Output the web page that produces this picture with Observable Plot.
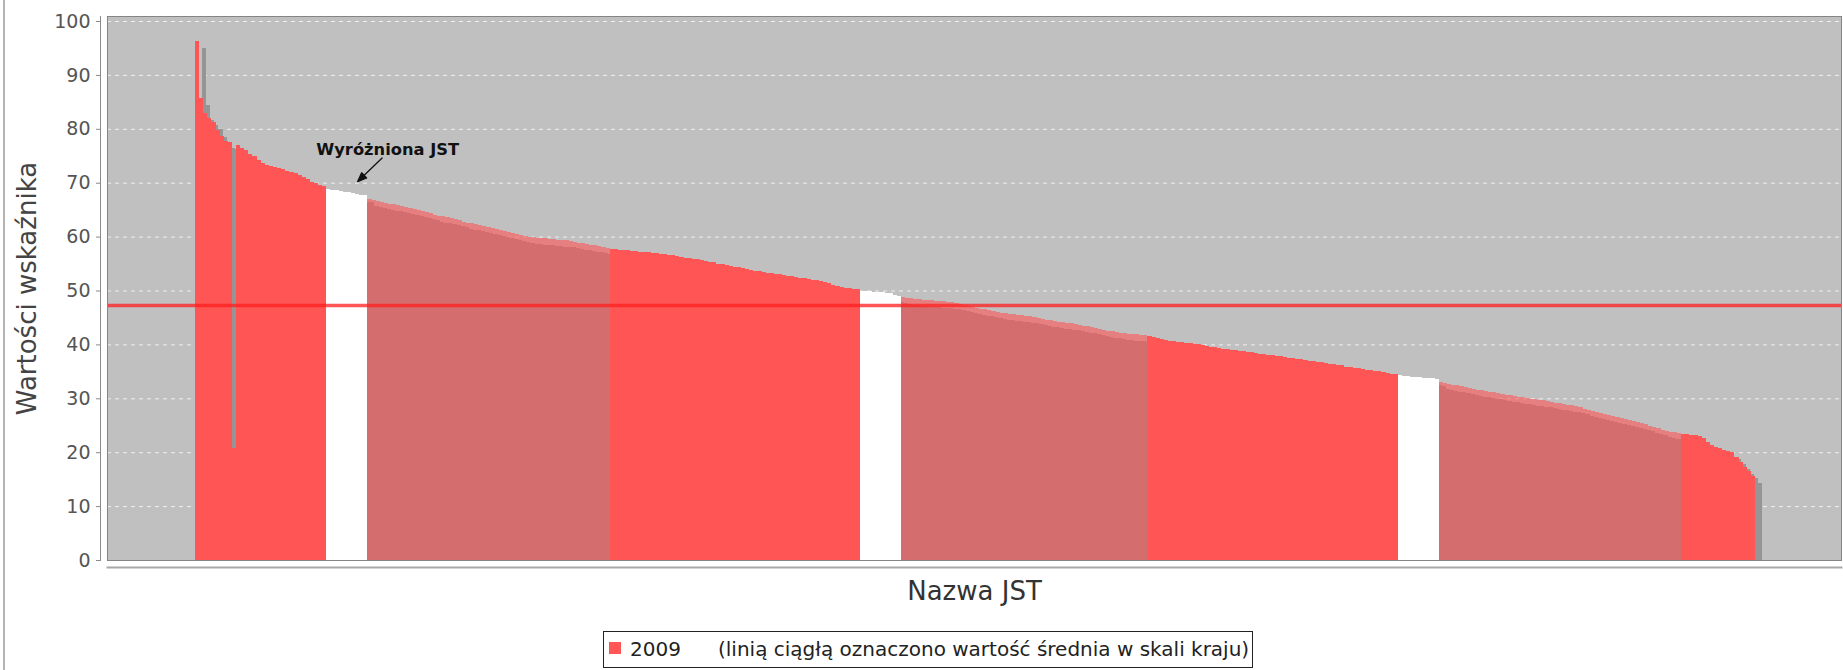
<!DOCTYPE html>
<html>
<head>
<meta charset="utf-8">
<script src="https://cdn.jsdelivr.net/npm/d3@7"></script>
<script src="https://cdn.jsdelivr.net/npm/@observablehq/plot@0.6"></script>
<style>
  html, body { margin: 0; padding: 0; background: #fff; }
  body { width: 1843px; height: 670px; position: relative; overflow: hidden; font-family: "DejaVu Sans", sans-serif; }
  #edge { position: absolute; left: 3px; top: 0; width: 2px; height: 670px; background: #b4b4b4; }
  #chart svg { display: block; }
  .legend { position: absolute; left: 603px; top: 631px; width: 648px; height: 35px; border: 1px solid #222; font-size: 20px; color: #222; background: #fff; }
  .legend .sw { position: absolute; left: 5px; top: 10px; width: 12px; height: 12px; background: #ff5555; }
  .legend .t1 { position: absolute; left: 26px; top: 0; line-height: 35px; white-space: nowrap; }
  .legend .t2 { position: absolute; left: 114px; top: 0; line-height: 35px; white-space: nowrap; }
</style>
</head>
<body>
<div id="edge"></div>
<div id="chart"></div>
<script>
// ---- data (sorted bars, one per JST) ----
const seg1Normal = [96.2, 85.8, 82.9, 82.0, 81.3, 79.8, 78.6, 77.8, 77.5, 20.8, 77.0, 76.4, 76.0, 75.4, 75.0, 74.2, 73.6, 73.3, 73.1, 73.0, 72.8, 72.6, 72.2, 72.0, 71.8, 71.4, 71.1, 70.6, 70.2, 69.9, 69.6, 69.3];
const seg2Highlight = [68.8, 68.7, 68.6, 68.4, 68.3, 68.2, 68.0, 67.9, 67.8, 67.7];
const seg3Neighbour = [67.0, 66.8, 66.6, 66.4, 66.3, 66.1, 66.0, 65.8, 65.6, 65.5,
  65.3, 65.1, 64.9, 64.7, 64.5, 64.3, 64.1, 63.9, 63.8, 63.6,
  63.4, 63.2, 63.0, 62.8, 62.6, 62.5, 62.3, 62.2, 62.0, 61.8,
  61.6, 61.4, 61.2, 61.0, 60.8, 60.6, 60.5, 60.3, 60.2, 60.0,
  59.9, 59.8, 59.7, 59.7, 59.6, 59.5, 59.4, 59.4, 59.3, 59.1,
  59.0, 58.9, 58.8, 58.6, 58.5, 58.4, 58.2, 58.1, 57.9];
const seg4Normal = [57.7, 57.7, 57.6, 57.5, 57.5, 57.4, 57.3, 57.2, 57.1, 57.1,
  57.0, 56.9, 56.8, 56.7, 56.6, 56.5, 56.4, 56.2, 56.1, 56.0,
  55.9, 55.8, 55.6, 55.5, 55.3, 55.2, 55.0, 54.9, 54.7, 54.6,
  54.4, 54.3, 54.1, 54.0, 53.8, 53.7, 53.6, 53.5, 53.3, 53.2,
  53.1, 53.0, 52.9, 52.7, 52.6, 52.5, 52.4, 52.3, 52.1, 52.0,
  51.9, 51.8, 51.6, 51.3, 51.1, 50.9, 50.7, 50.5, 50.4, 50.3, 50.2];
const seg5Highlight = [50.0, 49.9, 49.9, 49.8, 49.7, 49.7, 49.6, 49.5, 49.2, 48.9];
const seg6Neighbour = [48.8, 48.7, 48.6, 48.5, 48.4, 48.3, 48.2, 48.2, 48.1, 48.0,
  48.0, 47.9, 47.8, 47.6, 47.5, 47.3, 47.1, 47.0, 46.8, 46.6,
  46.5, 46.3, 46.2, 46.0, 45.9, 45.8, 45.7, 45.6, 45.5, 45.4,
  45.3, 45.2, 45.0, 44.9, 44.7, 44.6, 44.5, 44.4, 44.2, 44.1,
  44.0, 43.9, 43.8, 43.6, 43.5, 43.4, 43.2, 43.0, 42.8, 42.6,
  42.5, 42.4, 42.3, 42.2, 42.1, 42.0, 41.9, 41.9, 41.8, 41.7];
const seg7Normal = [41.5, 41.3, 41.2, 41.0, 40.9, 40.7, 40.6, 40.5, 40.4, 40.3,
  40.2, 40.1, 40.0, 39.8, 39.7, 39.6, 39.5, 39.4, 39.2, 39.1,
  39.0, 38.9, 38.8, 38.7, 38.6, 38.5, 38.4, 38.3, 38.2, 38.1,
  38.0, 37.9, 37.8, 37.6, 37.5, 37.4, 37.3, 37.2, 37.1, 37.0,
  36.9, 36.8, 36.7, 36.5, 36.4, 36.3, 36.2, 36.1, 35.9, 35.8,
  35.7, 35.6, 35.5, 35.3, 35.2, 35.1, 35.0, 34.9, 34.7, 34.6, 34.5];
const seg8Highlight = [34.3, 34.2, 34.1, 34.0, 33.9, 33.9, 33.8, 33.7, 33.7, 33.6];
const seg9Neighbour = [33.0, 32.8, 32.7, 32.5, 32.4, 32.2, 32.1, 31.9, 31.8, 31.6,
  31.5, 31.4, 31.2, 31.1, 30.9, 30.8, 30.7, 30.6, 30.4, 30.3,
  30.2, 30.1, 29.9, 29.8, 29.7, 29.6, 29.5, 29.4, 29.2, 29.1,
  29.0, 28.8, 28.7, 28.5, 28.3, 28.1, 27.9, 27.7, 27.5, 27.2,
  27.0, 26.9, 26.7, 26.5, 26.4, 26.2, 26.0, 25.8, 25.6, 25.4,
  25.2, 24.9, 24.7, 24.5, 24.2, 24.0, 23.8, 23.7, 23.5];
const seg10Normal = [23.4, 23.3, 23.2, 23.1, 23.0, 22.6, 21.9, 21.3, 21.0, 20.7, 20.4, 20.2, 20.0, 19.2, 18.2, 17.3, 16.6, 15.6];

const segments = [
  {kind: "normal", values: seg1Normal},
  {kind: "highlight", values: seg2Highlight},
  {kind: "neighbour", values: seg3Neighbour},
  {kind: "normal", values: seg4Normal},
  {kind: "highlight", values: seg5Highlight},
  {kind: "neighbour", values: seg6Neighbour},
  {kind: "normal", values: seg7Normal},
  {kind: "highlight", values: seg8Highlight},
  {kind: "neighbour", values: seg9Neighbour},
  {kind: "normal", values: seg10Normal}
];

const nationalMean = [47.3];
const yTicks = [0, 10, 20, 30, 40, 50, 60, 70, 80, 90, 100];
const gridTicks = [10, 20, 30, 40, 50, 60, 70, 80, 90, 100];
const yLabel = "Wartości wskaźnika";
const xLabel = "Nazwa JST";
const seriesName = "2009";
const legendNote = "(linią ciągłą oznaczono wartość średnia w skali kraju)";
const annotationText = "Wyróżniona JST";

// ---- build rows ----
const rows = [];
segments.forEach(s => s.values.forEach(v => rows.push({jst: "JST " + (rows.length + 1), value: v, kind: s.kind})));
const categories = rows.map(d => d.jst);
const annotations = [{jst: categories[39], value: 70.3, label: annotationText}];

const arrowShape = {
  draw(context, l) {
    context.moveTo(0, 0);
    context.lineTo(-3.6, -9);
    context.lineTo(3.6, -9);
    context.closePath();
    context.moveTo(0, -8);
    context.lineTo(0, -l);
  }
};

const red = "#ff5555";
const chart = Plot.plot({
  width: 1843,
  height: 625,
  marginLeft: 107,
  marginRight: 2,
  marginTop: 16,
  marginBottom: 65,
  style: {fontFamily: "DejaVu Sans", background: "transparent", overflow: "visible"},
  x: {type: "band", domain: categories, padding: 0, insetLeft: 88, insetRight: 86, axis: null, round: false},
  y: {domain: [0, 100.93], axis: null},
  marks: [
    Plot.frame({fill: "#c0c0c0", stroke: null}),
    Plot.gridY(gridTicks, {stroke: "#ffffff", strokeOpacity: 0.75, strokeDasharray: "4,4"}),
    Plot.barY(rows, {x: "jst", y: "value", fill: "#959595", dx: 7, dy: 7, clip: true, shapeRendering: "crispEdges"}),
    Plot.barY(rows.filter(d => d.kind === "normal"), {x: "jst", y: "value", fill: red, shapeRendering: "crispEdges"}),
    Plot.barY(rows.filter(d => d.kind === "highlight"), {x: "jst", y: "value", fill: "#ffffff", shapeRendering: "crispEdges"}),
    Plot.barY(rows.filter(d => d.kind === "neighbour"), {x: "jst", y: "value", fill: red, fillOpacity: 0.6, shapeRendering: "crispEdges"}),
    Plot.ruleY(nationalMean, {stroke: "#ff1f1f", strokeWidth: 3.5, strokeOpacity: 0.75}),
    Plot.frame({stroke: "#858585"}),
    Plot.frame({anchor: "left", stroke: "#8a8a8a", dx: -7}),
    Plot.frame({anchor: "bottom", stroke: "#a8a8a8", strokeWidth: 2, dy: 7}),
    Plot.axisY(yTicks, {anchor: "left", tickSize: 4, tickPadding: 6, dx: -7, fontSize: 19, fill: "#555", stroke: "#8a8a8a", label: null}),
    Plot.text([yLabel], {frameAnchor: "left", dx: -80, rotate: -90, textAnchor: "middle", lineAnchor: "middle", fontSize: 26, fill: "#444"}),
    Plot.text([xLabel], {frameAnchor: "bottom", dy: 31, textAnchor: "middle", lineAnchor: "middle", fontSize: 26, fill: "#333"}),
    Plot.vector(annotations, {x: "jst", y: "value", rotate: 46, length: 34, anchor: "start", shape: arrowShape, stroke: "#111", fill: "#111", strokeWidth: 1.3}),
    Plot.text(annotations, {x: "jst", y: "value", text: "label", dx: 30, dy: -32, fontSize: 16.3, fontWeight: "bold", fill: "#111"})
  ]
});
document.getElementById("chart").appendChild(chart);

const legend = document.createElement("div");
legend.className = "legend";
legend.innerHTML = '<span class="sw"></span><span class="t1"></span><span class="t2"></span>';
legend.querySelector(".t1").textContent = seriesName;
legend.querySelector(".t2").textContent = legendNote;
document.body.appendChild(legend);
</script>
</body>
</html>
